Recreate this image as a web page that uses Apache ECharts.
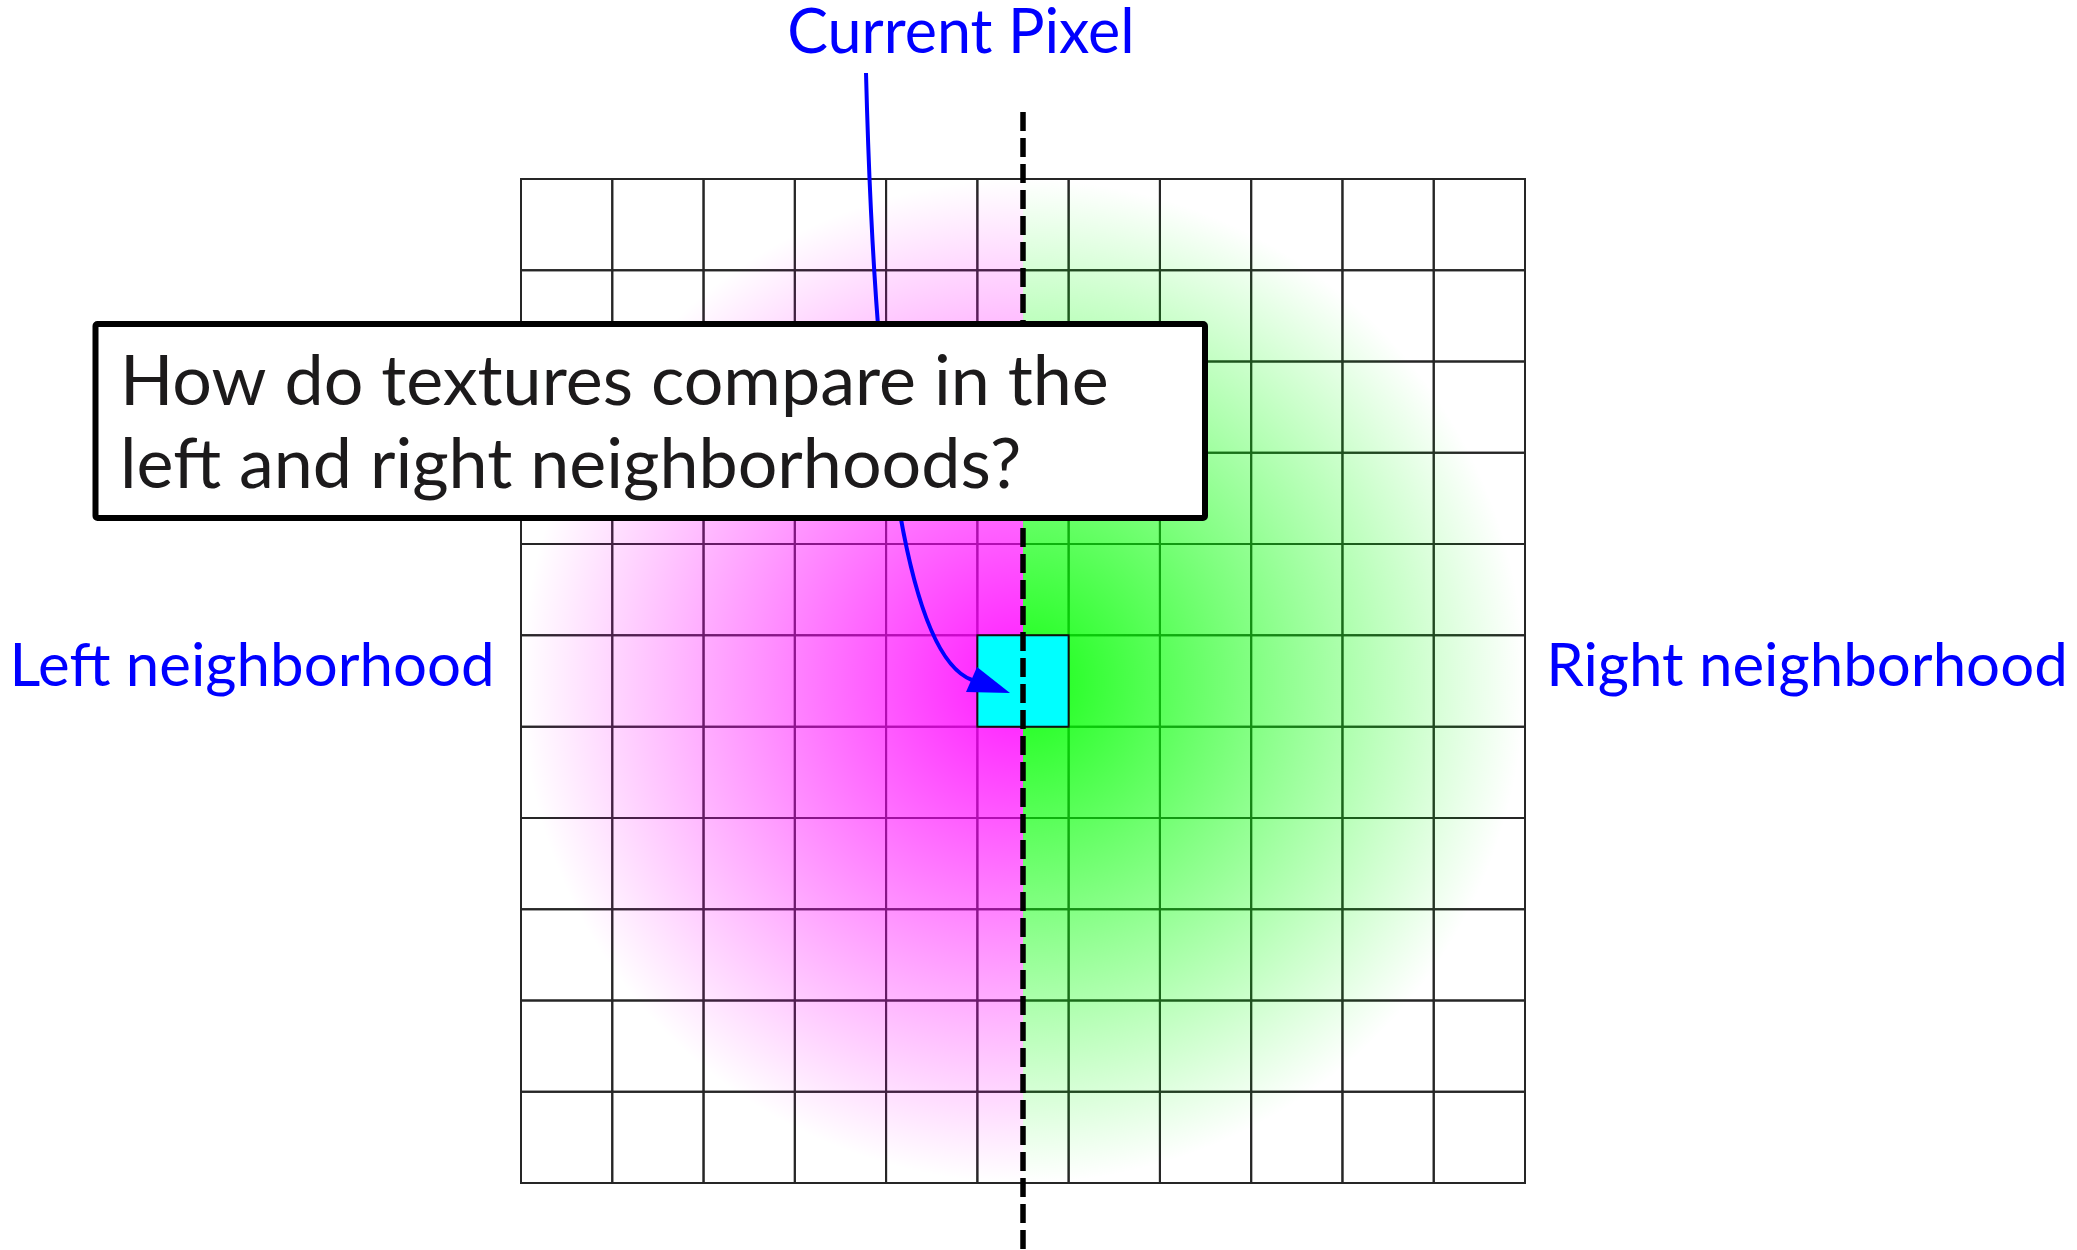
<!DOCTYPE html>
<html>
<head>
<meta charset="utf-8">
<script src="https://cdn.jsdelivr.net/npm/echarts@6/dist/echarts.min.js"></script>
<style>
html,body{margin:0;padding:0;background:#fff;}
#chart{width:2077px;height:1250px;}
</style>
</head>
<body>
<div id="chart"></div>
<script>
// ---- data ----
const gridCols = [0,1,2,3,4,5,6,7,8,9,10];
const gridRows = [0,1,2,3,4,5,6,7,8,9,10];
const currentPixel = [5, 5];
const splitX = [5.5];
const neighborhoodCenter = [5.5, 5.5];
const neighborhoodRadius = [5.5];
const neighborhoodSides = ['left', 'right'];
const neighborhoodColors = ['255,0,255', '0,255,0'];
const labelTexts = ['Current Pixel', 'Left neighborhood', 'Right neighborhood'];
const questionLines = ['How do textures compare in the', 'left and right neighborhoods?'];

// ---- build ----
const cellData = [];
gridRows.forEach(r => gridCols.forEach(c => cellData.push([c, r])));
const halfData = neighborhoodSides.map((s, i) => [neighborhoodCenter[0], neighborhoodCenter[1], neighborhoodRadius[0], i]);

const FONT = 'Lato, "Open Sans", sans-serif';
const chart = echarts.init(document.getElementById('chart'), null, {renderer: 'canvas'});

const option = {
  animation: false,
  backgroundColor: '#ffffff',
  grid: {left: 521, top: 179, width: 1004, height: 1004, containLabel: false},
  xAxis: {type: 'value', min: 0, max: gridCols.length, interval: 1, show: false},
  yAxis: {type: 'value', min: 0, max: gridRows.length, interval: 1, inverse: true, show: false},
  series: [
    {
      type: 'custom', z: 1, clip: false,
      data: cellData,
      renderItem: function (params, api) {
        const p0 = api.coord([api.value(0), api.value(1)]);
        const p1 = api.coord([api.value(0) + 1, api.value(1) + 1]);
        return {type: 'rect', shape: {x: p0[0], y: p0[1], width: p1[0] - p0[0], height: p1[1] - p0[1]},
          style: {fill: 'none', stroke: '#262626', lineWidth: 2}};
      }
    },
    {
      type: 'custom', z: 2, clip: false,
      data: halfData,
      renderItem: function (params, api) {
        const c = api.coord([api.value(0), api.value(1)]);
        const r = api.size([api.value(2), 0])[0];
        const idx = api.value(3);
        const col = neighborhoodColors[idx];
        const left = neighborhoodSides[idx] === 'left';
        return {type: 'sector',
          shape: {cx: c[0], cy: c[1], r0: 0, r: r,
            startAngle: left ? Math.PI / 2 : -Math.PI / 2,
            endAngle: left ? Math.PI * 1.5 : Math.PI / 2, clockwise: true},
          style: {fill: {type: 'radial', x: c[0], y: c[1], r: r, global: true,
            colorStops: [{offset: 0, color: 'rgba(' + col + ',0.9)'}, {offset: 1, color: 'rgba(' + col + ',0)'}]},
            stroke: 'none'}};
      }
    },
    {
      type: 'custom', z: 3, clip: false,
      data: [currentPixel],
      renderItem: function (params, api) {
        const p0 = api.coord([api.value(0), api.value(1)]);
        const p1 = api.coord([api.value(0) + 1, api.value(1) + 1]);
        return {type: 'rect', shape: {x: p0[0], y: p0[1], width: p1[0] - p0[0], height: p1[1] - p0[1]},
          style: {fill: '#00ffff', stroke: '#111', lineWidth: 2}};
      }
    },
    {
      type: 'custom', z: 4, clip: false,
      data: [splitX],
      renderItem: function (params, api) {
        const x = api.coord([api.value(0), 0])[0];
        const top = api.coord([api.value(0), 0])[1] - 67;
        return {type: 'line', shape: {x1: x, y1: top, x2: x, y2: 1260},
          style: {stroke: '#000', lineWidth: 5.5, lineDash: [19, 7], lineCap: 'butt'}};
      }
    }
  ],
  graphic: [
    {type: 'bezierCurve', z: 50,
      shape: {x1: 866, y1: 73, cpx1: 876, cpy1: 465, cpx2: 912, cpy2: 658, x2: 972, y2: 680},
      style: {stroke: '#0000ff', lineWidth: 4, fill: 'none'}},
    {type: 'polygon', z: 51,
      shape: {points: [[1010, 693], [966, 692], [977, 667]]},
      style: {fill: '#0000ff'}},
    {type: 'rect', z: 60,
      shape: {x: 95.5, y: 324, width: 1109.5, height: 194, r: 2},
      style: {fill: '#ffffff', stroke: '#000', lineWidth: 6}},
    {type: 'text', z: 61,
      style: {text: questionLines[0], x: 120, y: 382, font: '70px ' + FONT, fill: '#1c1a1b', verticalAlign: 'middle', align: 'left'}},
    {type: 'text', z: 61,
      style: {text: questionLines[1], x: 120, y: 465, font: '70px ' + FONT, fill: '#1c1a1b', verticalAlign: 'middle', align: 'left'}},
    {type: 'text', z: 61,
      style: {text: labelTexts[0], x: 961, y: 33, font: '61px ' + FONT, fill: '#0000ff', verticalAlign: 'middle', align: 'center'}},
    {type: 'text', z: 61,
      style: {text: labelTexts[1], x: 252, y: 667, font: '60px ' + FONT, fill: '#0000ff', verticalAlign: 'middle', align: 'center'}},
    {type: 'text', z: 61,
      style: {text: labelTexts[2], x: 1807, y: 667, font: '60px ' + FONT, fill: '#0000ff', verticalAlign: 'middle', align: 'center'}}
  ]
};
chart.setOption(option);
</script>
</body>
</html>
